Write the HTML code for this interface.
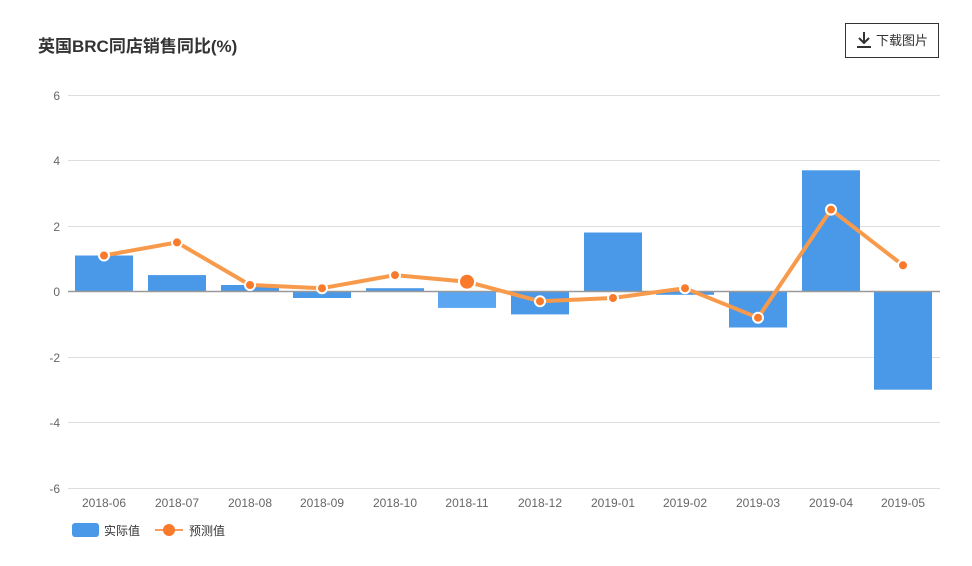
<!DOCTYPE html>
<html><head><meta charset="utf-8"><style>
body{margin:0;background:#fff;width:972px;height:561px;overflow:hidden;font-family:"Liberation Sans","Noto Sans CJK SC",sans-serif;}
</style></head><body>
<svg width="972" height="561" xmlns="http://www.w3.org/2000/svg" font-family="Liberation Sans, Noto Sans CJK SC, sans-serif">
<text x="38" y="52" font-size="17" font-weight="bold" fill="#333">英国BRC同店销售同比(%)</text>
<rect x="845.5" y="23.5" width="93" height="34" fill="#fff" stroke="#333"/>
<path d="M864 32v11M859 38l5 5 5-5M857 47h14" stroke="#333" stroke-width="2" fill="none"/>
<text x="876" y="45" font-size="13" fill="#333">下载图片</text>
<g stroke="#ddd" stroke-width="1">
<line x1="68" y1="95.5" x2="940" y2="95.5"/><line x1="68" y1="160.5" x2="940" y2="160.5"/>
<line x1="68" y1="226.5" x2="940" y2="226.5"/><line x1="68" y1="357.5" x2="940" y2="357.5"/>
<line x1="68" y1="422.5" x2="940" y2="422.5"/><line x1="68" y1="488.5" x2="940" y2="488.5"/>
</g>
<g font-size="12" fill="#666" text-anchor="end">
<text x="60" y="100">6</text><text x="60" y="165">4</text><text x="60" y="231">2</text><text x="60" y="296">0</text>
<text x="60" y="362">-2</text><text x="60" y="427">-4</text><text x="60" y="493">-6</text>
</g>
<g fill="#4a98e8">
<rect x="75" y="255.5" width="58" height="36"/>
<rect x="148" y="275.1" width="58" height="16.4"/>
<rect x="221" y="285" width="58" height="6.5"/>
<rect x="293" y="291.5" width="58" height="6.5"/>
<rect x="366" y="288.2" width="58" height="3.3"/>
<rect x="438" y="291.5" width="58" height="16.4" fill="#5aa6f3"/>
<rect x="511" y="291.5" width="58" height="22.9"/>
<rect x="584" y="232.5" width="58" height="59"/>
<rect x="656" y="291.5" width="58" height="3.3"/>
<rect x="729" y="291.5" width="58" height="36"/>
<rect x="802" y="170.3" width="58" height="121.2"/>
<rect x="874" y="291.5" width="58" height="98.2"/>
</g>
<line x1="68" y1="291.5" x2="940" y2="291.5" stroke="#999" stroke-width="1.5"/>
<polyline fill="none" stroke="#f89a4c" stroke-width="4" stroke-linejoin="round" points="104,255.5 177,242.4 250,285 322,288.2 395,275.1 467,281.7 540,301.3 613,298 685,288.2 758,317.7 831,209.6 903,265.3"/>
<g fill="#fa7a2c" stroke="#fff" stroke-width="2">
<circle cx="104" cy="255.5" r="5"/><circle cx="177" cy="242.4" r="5"/><circle cx="250" cy="285" r="5"/>
<circle cx="322" cy="288.2" r="5"/><circle cx="395" cy="275.1" r="5"/><circle cx="467" cy="281.7" r="8"/>
<circle cx="540" cy="301.3" r="5"/><circle cx="613" cy="298" r="5"/><circle cx="685" cy="288.2" r="5"/>
<circle cx="758" cy="317.7" r="5"/><circle cx="831" cy="209.6" r="5"/><circle cx="903" cy="265.3" r="5"/>
</g>
<g font-size="12" fill="#666" text-anchor="middle">
<text x="104" y="507">2018-06</text><text x="177" y="507">2018-07</text><text x="250" y="507">2018-08</text>
<text x="322" y="507">2018-09</text><text x="395" y="507">2018-10</text><text x="467" y="507">2018-11</text>
<text x="540" y="507">2018-12</text><text x="613" y="507">2019-01</text><text x="685" y="507">2019-02</text>
<text x="758" y="507">2019-03</text><text x="831" y="507">2019-04</text><text x="903" y="507">2019-05</text>
</g>
<rect x="72" y="523" width="27" height="14" rx="3" fill="#4a98e8"/>
<text x="104" y="535" font-size="12" fill="#333">实际值</text>
<line x1="155" y1="530" x2="183" y2="530" stroke="#fa7a2c" stroke-width="1.5"/>
<circle cx="169" cy="530" r="6" fill="#fa7a2c"/>
<text x="189" y="535" font-size="12" fill="#333">预测值</text>
</svg>
</body></html>
